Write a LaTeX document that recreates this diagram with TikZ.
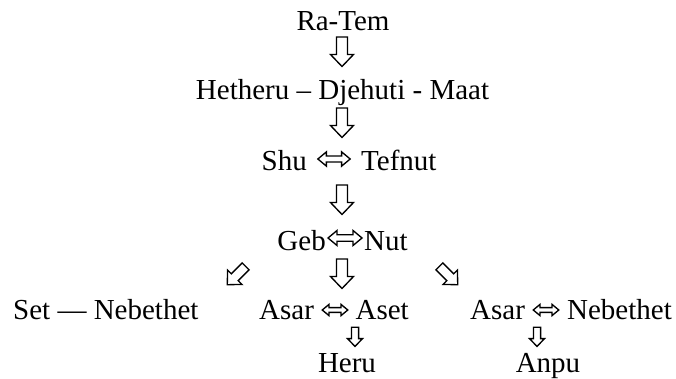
\documentclass[tikz,border=0pt]{standalone}
\usepackage{fontspec}
\setmainfont{Liberation Serif}
\tikzset{
  txt/.style={inner sep=0pt, font=\fontsize{29}{34}\selectfont},
  arrowline/.style={line width=1.35pt, line join=miter},
  downarrow/.pic={\draw[arrowline] (-5.5,-15) -- (5.5,-15) -- (5.5,2.5) -- (11.5,2.5) -- (0,14.5) -- (-11.5,2.5) -- (-5.5,2.5) -- cycle;},
  lrarrow/.pic={\draw[arrowline] (-17,0) -- (-8,-7.5) -- (-8,-3.2) -- (8,-3.2) -- (8,-7.5) -- (17,0) -- (8,7.5) -- (8,3.2) -- (-8,3.2) -- (-8,7.5) -- cycle;}
}
\begin{document}
\begin{tikzpicture}[x=1pt,y=-1pt]
\useasboundingbox (0,0) rectangle (676,379);
% row 1
\node[txt,anchor=base] (ratem) at (343,31) {Ra-Tem};
\pic (a1) at (342,52) {downarrow};
% row 2
\node[txt,anchor=base] (het) at (342.5,100) {Hetheru – Djehuti - Maat};
\pic (a2) at (342,123) {downarrow};
% row 3
\node[txt,anchor=base east] (shu) at (307,171) {Shu};
\pic[scale=0.95] (a3) at (334,159) {lrarrow};
\node[txt,anchor=base west] (tefnut) at (361,171) {Tefnut};
\pic (a4) at (342,200) {downarrow};
% row 4
\node[txt,anchor=base east] (geb) at (326,250) {Geb};
\pic (a5) at (345,238) {lrarrow};
\node[txt,anchor=base west] (nut) at (364,250) {Nut};
\pic[rotate=-45,scale=0.88] (a6) at (236.3,275.7) {downarrow};
\pic (a7) at (342,274) {downarrow};
\pic[rotate=45,scale=0.88] (a8) at (448.7,275.7) {downarrow};
% row 5
\node[txt,anchor=base west] (set) at (13,319) {Set — Nebethet};
\node[txt,anchor=base west] (asarA) at (259,319) {Asar};
\pic[scale=0.75] (a9) at (335,310) {lrarrow};
\node[txt,anchor=base east] (aset) at (409,319) {Aset};
\node[txt,anchor=base west] (asarB) at (470,319) {Asar};
\pic[scale=0.75] (a10) at (546,310) {lrarrow};
\node[txt,anchor=base east] (nebB) at (672,319) {Nebethet};
% row 6
\pic[scale=0.65] (a11) at (355,337) {downarrow};
\pic[scale=0.65] (a12) at (537,337) {downarrow};
\node[txt,anchor=base] (heru) at (347,372) {Heru};
\node[txt,anchor=base] (anpu) at (548,372) {Anpu};
\end{tikzpicture}
\end{document}
